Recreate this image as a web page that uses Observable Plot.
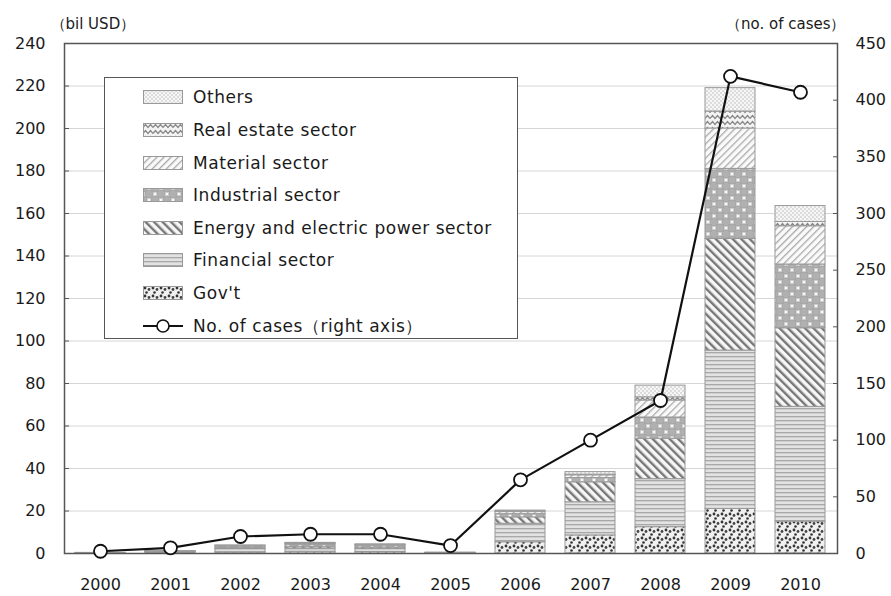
<!DOCTYPE html>
<html><head><meta charset="utf-8">
<script src="https://cdn.jsdelivr.net/npm/d3@7"></script>
<script src="https://cdn.jsdelivr.net/npm/@observablehq/plot@0.6"></script>
<style>
body{margin:0;background:#fff;}
#wrap{position:relative;width:891px;height:596px;font-family:"DejaVu Sans",sans-serif;color:#222;}
#legend{position:absolute;left:104px;top:77px;width:414px;height:262px;border:1.5px solid #555;background:#fff;box-sizing:border-box;}
.row{position:absolute;left:38px;height:20px;display:flex;align-items:center;font-size:17px;letter-spacing:0.55px;white-space:nowrap;color:#1a1a1a;}
.row svg{margin-right:10px;}
</style>
</head><body>
<svg width="0" height="0" style="position:absolute">
<defs>
<pattern id="p0" width="8" height="8" patternUnits="userSpaceOnUse">
<rect width="8" height="8" fill="#f0f0f0"/>
<circle cx="2" cy="2" r="1.4" fill="#333"/><circle cx="6" cy="3.5" r="1.4" fill="#444"/><circle cx="3.5" cy="6.5" r="1.3" fill="#333"/>
</pattern>
<pattern id="p1" width="6" height="4" patternUnits="userSpaceOnUse">
<rect width="6" height="4" fill="#e2e2e2"/><rect width="6" height="1.3" fill="#a8a8a8"/>
</pattern>
<pattern id="p2" width="6" height="6" patternUnits="userSpaceOnUse" patternTransform="rotate(-45)">
<rect width="6" height="6" fill="#f6f6f6"/><rect width="2.4" height="6" fill="#777"/>
</pattern>
<pattern id="p3" width="12" height="12" patternUnits="userSpaceOnUse">
<rect width="12" height="12" fill="#fafafa"/>
<circle cx="0" cy="0" r="4.2" fill="#b0b0b0" stroke="#909090" stroke-width="0.6"/><circle cx="12" cy="0" r="4.2" fill="#b0b0b0" stroke="#909090" stroke-width="0.6"/>
<circle cx="0" cy="12" r="4.2" fill="#b0b0b0" stroke="#909090" stroke-width="0.6"/><circle cx="12" cy="12" r="4.2" fill="#b0b0b0" stroke="#909090" stroke-width="0.6"/>
<circle cx="6" cy="6" r="4.2" fill="#b0b0b0" stroke="#909090" stroke-width="0.6"/>
</pattern>
<pattern id="p4" width="5" height="5" patternUnits="userSpaceOnUse" patternTransform="rotate(45)">
<rect width="5" height="5" fill="#fafafa"/><rect width="1.3" height="5" fill="#aaa"/>
</pattern>
<pattern id="p5" width="10" height="6" patternUnits="userSpaceOnUse">
<rect width="10" height="6" fill="#f4f4f4"/><path d="M0,4.5 L2.5,1.5 L5,4.5 L7.5,1.5 L10,4.5" stroke="#888" stroke-width="1.2" fill="none"/>
</pattern>
<pattern id="p6" width="4" height="4" patternUnits="userSpaceOnUse">
<rect width="4" height="4" fill="#f6f6f6"/><circle cx="1" cy="1" r="0.8" fill="#bbb"/><circle cx="3" cy="3" r="0.8" fill="#bbb"/>
</pattern>
</defs>
</svg>
<div id="wrap"></div>
<script>
const years = ["2000","2001","2002","2003","2004","2005","2006","2007","2008","2009","2010"];
const sectorNames = ["Gov't","Financial sector","Energy and electric power sector","Industrial sector","Material sector","Real estate sector","Others"];
const gov        = [0.1, 0.3, 0.6, 0.8, 0.7, 0.1, 5.3, 8.5, 12.4, 21.0, 15.0];
const financial  = [0.1, 0.4, 1.5, 1.6, 1.5, 0.1, 8.7, 15.6, 22.6, 74.5, 54.0];
const energy     = [0.0, 0.1, 0.4, 0.8, 0.6, 0.1, 3.0, 9.4, 19.0, 52.5, 37.0];
const industrial = [0.0, 0.1, 0.8, 1.0, 0.9, 0.0, 1.5, 2.0, 10.0, 33.0, 30.0];
const material   = [0.0, 0.1, 0.2, 0.4, 0.3, 0.0, 1.0, 1.3, 8.0, 19.0, 18.0];
const realEstate = [0.0, 0.0, 0.1, 0.2, 0.1, 0.0, 0.2, 0.3, 1.5, 8.0, 2.0];
const others     = [0.1, 0.1, 0.2, 0.2, 0.2, 0.1, 0.5, 1.2, 5.5, 11.0, 7.5];
const cases      = [2, 5, 15, 17, 17, 7, 65, 100, 135, 421, 407];
const leftTicks = [0,20,40,60,80,100,120,140,160,180,200,220,240];
const rightTicks = [0,50,100,150,200,250,300,350,400,450];
const legendOrder = ["Others","Real estate sector","Material sector","Industrial sector","Energy and electric power sector","Financial sector","Gov't"];

const seriesValues = [gov, financial, energy, industrial, material, realEstate, others];
const table = [];
sectorNames.forEach((s, i) => years.forEach((y, j) => table.push({year: y, sector: s, value: seriesValues[i][j]})));
const lineData = years.map((y, j) => ({year: y, cases: cases[j]}));
const patternOf = s => `url(#p${sectorNames.indexOf(s)})`;
const toLeft = v => v * 240 / 450;

const chart = Plot.plot({
  width: 891, height: 596,
  marginTop: 43, marginBottom: 43, marginLeft: 64, marginRight: 54,
  style: {fontFamily: "DejaVu Sans, sans-serif", fontSize: "16px", color: "#1a1a1a", background: "#fff"},
  x: {domain: years, paddingInner: 0.28, paddingOuter: 0.14, label: null},
  y: {domain: [0, 240], label: null},
  color: {domain: sectorNames, range: sectorNames.map(patternOf)},
  marks: [
    Plot.gridY(leftTicks.slice(1, -1), {stroke: "#d6d6d6", strokeOpacity: 1}),
    Plot.barY(table, {x: "year", y: "value", fill: "sector", z: "sector", order: sectorNames, stroke: "#999", strokeWidth: 1}),
    Plot.frame({stroke: "#555", strokeWidth: 1.5}),
    Plot.axisY(leftTicks, {anchor: "left", tickSize: -5, tickPadding: 24, label: null, stroke: "#555"}),
    Plot.axisY(rightTicks.map(toLeft), {anchor: "right", tickSize: -5, tickPadding: 23, label: null, stroke: "#555", tickFormat: d => String(Math.round(d * 450 / 240))}),
    Plot.axisX({tickSize: 0, tickPadding: 25, label: null}),
    Plot.line(lineData, {x: "year", y: d => toLeft(d.cases), stroke: "#111", strokeWidth: 2.2}),
    Plot.dot(lineData, {x: "year", y: d => toLeft(d.cases), r: 6.5, fill: "white", stroke: "#111", strokeWidth: 1.8}),
    Plot.text(["（bil USD）"], {frameAnchor: "top-left", dx: -14, dy: -25, textAnchor: "start", fontSize: 15, fill: "#1a1a1a"}),
    Plot.text(["（no. of cases）"], {frameAnchor: "top-right", dx: 8, dy: -25, textAnchor: "end", fontSize: 15, fill: "#1a1a1a"})
  ]
});
const wrap = document.getElementById("wrap");
wrap.appendChild(chart);

const legend = document.createElement("div");
legend.id = "legend";
const rowTops = [9, 42, 75, 107, 140, 172, 205, 238];
legendOrder.forEach((s, i) => {
  const row = document.createElement("div");
  row.className = "row";
  row.style.top = rowTops[i] + "px";
  row.innerHTML = `<svg width="40" height="14"><rect x="0.5" y="0.5" width="39" height="13" fill="${patternOf(s)}" stroke="#999"/></svg><span>${s}</span>`;
  legend.appendChild(row);
});
const lrow = document.createElement("div");
lrow.className = "row";
lrow.style.top = rowTops[7] + "px";
lrow.innerHTML = `<svg width="40" height="16"><line x1="0" y1="8" x2="40" y2="8" stroke="#111" stroke-width="2"/><circle cx="20" cy="8" r="6" fill="#fff" stroke="#111" stroke-width="1.6"/></svg><span>No. of cases（right axis）</span>`;
legend.appendChild(lrow);
wrap.appendChild(legend);
</script>
</body></html>
